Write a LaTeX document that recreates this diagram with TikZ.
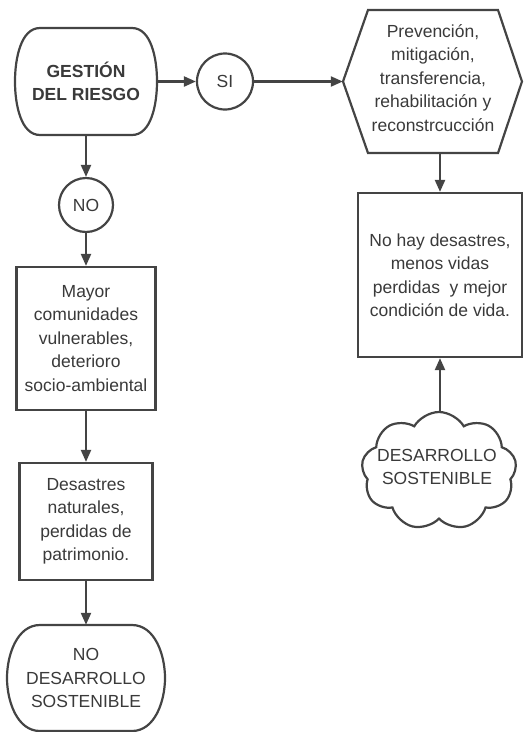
\documentclass[tikz,border=0pt]{standalone}
\usepackage{fontspec}
\setmainfont{Liberation Sans}
\usetikzlibrary{arrows.meta,shapes.symbols,shapes.geometric}
\definecolor{ln}{HTML}{444444}
\definecolor{tx}{HTML}{3A3A3A}
\begin{document}
\begin{tikzpicture}[x=1pt,y=-1pt,
  lbl/.style={align=center,text=tx,font=\fontsize{17.5}{23.5}\selectfont,inner sep=0pt},
  shp/.style={draw=ln,line width=2.2pt,fill=white},
  conn/.style={draw=ln,line width=2.2pt,-{Triangle[length=12pt,width=10pt]}},
  box/.style={shp,rectangle,lbl},
  circ/.style={shp,circle,lbl},
]
\useasboundingbox (0,0) rectangle (523,732);
% terminator 1
\draw[shp] (40,28) -- (132,28) .. controls (151,28) and (157,58) .. (157,81.5) .. controls (157,105) and (151,135) .. (132,135) -- (40,135) .. controls (21,135) and (15,105) .. (15,81.5) .. controls (15,58) and (21,28) .. (40,28) -- cycle;
\node[lbl,font=\bfseries\fontsize{17.5}{23.5}\selectfont,minimum width=142pt,minimum height=107pt] (gest) at (86,81.5) {GESTIÓN\\DEL RIESGO};
% SI
\node[circ,minimum size=56pt] (si) at (225,81.5) {SI};
% hexagon
\draw[shp] (343,81.5) -- (368,10) -- (498,10) -- (522,81.5) -- (498,153) -- (368,153) -- cycle;
\node[lbl,minimum width=179pt,minimum height=143pt] (hex) at (432.5,81.5) {};
\node[lbl] (hext) at (433,78) {Prevención,\\mitigación,\\transferencia,\\rehabilitación y\\reconstrcucción};
% right box
\node[box,minimum width=164pt,minimum height=164pt] (res) at (440,275) {No hay desastres,\\menos vidas\\perdidas\ \ y mejor\\condición de vida.};
% cloud
\node[shp,cloud,cloud puffs=9,cloud puff arc=120,cloud ignores aspect,inner sep=0pt,minimum width=155pt,minimum height=118pt] (cloud) at (439,471) {};
\node[lbl] (cloudt) at (437,467) {DESARROLLO\\SOSTENIBLE};
% NO
\node[circ,minimum size=54pt] (no) at (86,205) {NO};
\node[box,minimum width=139pt,minimum height=143pt] (mayor) at (86,338.5) {Mayor\\comunidades\\vulnerables,\\deterioro\\socio-ambiental};
\node[box,minimum width=133pt,minimum height=117pt] (des) at (86,521.5) {Desastres\\naturales,\\perdidas de\\patrimonio.};
% terminator 2
\draw[shp] (40,625) -- (132,625) .. controls (155,625) and (165,655) .. (165,678) .. controls (165,701) and (155,731) .. (132,731) -- (40,731) .. controls (17,731) and (7,701) .. (7,678) .. controls (7,655) and (17,625) .. (40,625) -- cycle;
\node[lbl,minimum width=158pt,minimum height=106pt] (nds) at (86,678) {NO\\DESARROLLO\\SOSTENIBLE};
% connectors
\draw[conn] (gest) -- (si);
\draw[conn] (si) -- (hex.west);
\draw[conn] (hex.south -| res.north) -- (res.north);
\draw[conn] (cloud.north -| res.south) -- (res.south);
\draw[conn] (gest) -- (no);
\draw[conn] (no) -- (mayor);
\draw[conn] (mayor) -- (des);
\draw[conn] (des) -- (nds);
\end{tikzpicture}
\end{document}
